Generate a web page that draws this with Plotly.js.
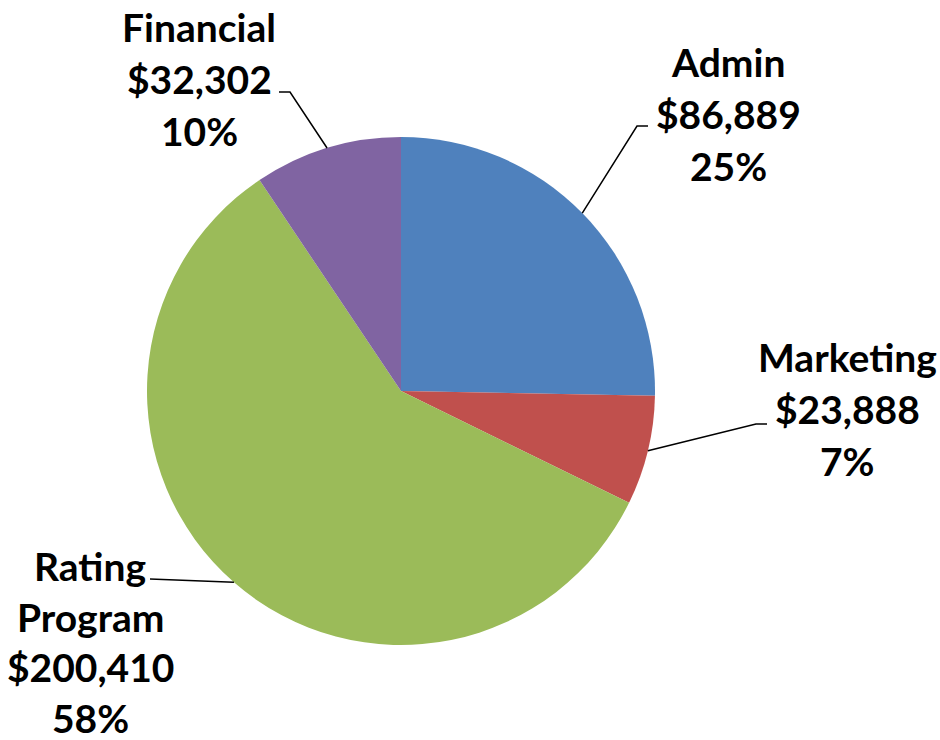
<!DOCTYPE html>
<html>
<head>
<meta charset="utf-8">
<script src="https://cdn.plot.ly/plotly-3.0.1.min.js"></script>
<style>html,body{margin:0;padding:0;background:#fff;}#chart{width:940px;height:740px;}</style>
</head>
<body>
<div id="chart"></div>
<script>
// Data
var categories = ["Admin", "Marketing", "Rating Program", "Financial"];
var values = [86889, 23888, 200410, 32302];
var colors = ["#4F81BD", "#C0504D", "#9BBB59", "#8064A2"];
// Label lines as shown in the reference
var labelLines = [
  ["Admin", "$86,889", "25%"],
  ["Marketing", "$23,888", "7%"],
  ["Rating", "Program", "$200,410", "58%"],
  ["Financial", "$32,302", "10%"]
];

// Layout geometry (pixels)
var W = 940, H = 740;
var cx = 401, cy = 391, R = 254;
var labelCenters = [[728, 62], [847, 357], [90, 566], [199, 27]]; // first line center
var lineGaps = [52, 52, 50.7, 52];
var elbows = [ // leader line: elbow point then end point near label
  [[637, 126], [648, 126]],
  [[756, 424], [767, 424]],
  [[150, 579], [150, 579]],
  [[290, 92], [279, 92]]
];

function px(x) { return x / W; }
function py(y) { return 1 - y / H; }

var total = values.reduce(function (a, b) { return a + b; }, 0);
var annotations = [];
var shapes = [];
var cum = 0;
for (var i = 0; i < values.length; i++) {
  var mid = (cum + values[i] / 2) / total * 2 * Math.PI;
  cum += values[i];
  var ex = cx + R * Math.sin(mid), ey = cy - R * Math.cos(mid);
  var e1 = elbows[i][0], e2 = elbows[i][1];
  shapes.push({
    type: "path", xref: "paper", yref: "paper",
    path: "M " + px(ex) + "," + py(ey) + " L " + px(e1[0]) + "," + py(e1[1]) + " L " + px(e2[0]) + "," + py(e2[1]),
    line: {color: "#000000", width: 1.5}
  });
  for (var j = 0; j < labelLines[i].length; j++) {
    var txt = labelLines[i][j];
    var ann = {
      xref: "paper", yref: "paper",
      x: px(labelCenters[i][0]), y: py(labelCenters[i][1] + j * lineGaps[i]),
      xanchor: "center", yanchor: "middle",
      text: "<b>" + txt + "</b>",
      showarrow: false,
      font: {family: "Lato, 'Open Sans', sans-serif", size: 39, color: "#000000"}
    };
    // tighter box only for lines without descenders (keeps the bottom label inside the page)
    if (!/[gpqyj,]/.test(txt)) { ann.height = 36; ann.valign = "middle"; }
    annotations.push(ann);
  }
}

var trace = {
  type: "pie",
  labels: categories,
  values: values,
  sort: false,
  direction: "clockwise",
  rotation: 0,
  textinfo: "none",
  hoverinfo: "label+value+percent",
  marker: {colors: colors, line: {width: 0}},
  domain: {x: [px(cx - R), px(cx + R)], y: [py(cy + R), py(cy - R)]},
  showlegend: false
};

var layout = {
  width: W, height: H,
  margin: {l: 0, r: 0, t: 0, b: 0},
  paper_bgcolor: "#ffffff",
  showlegend: false,
  annotations: annotations,
  shapes: shapes
};

Plotly.newPlot("chart", [trace], layout, {displayModeBar: false, staticPlot: true});
</script>
</body>
</html>
